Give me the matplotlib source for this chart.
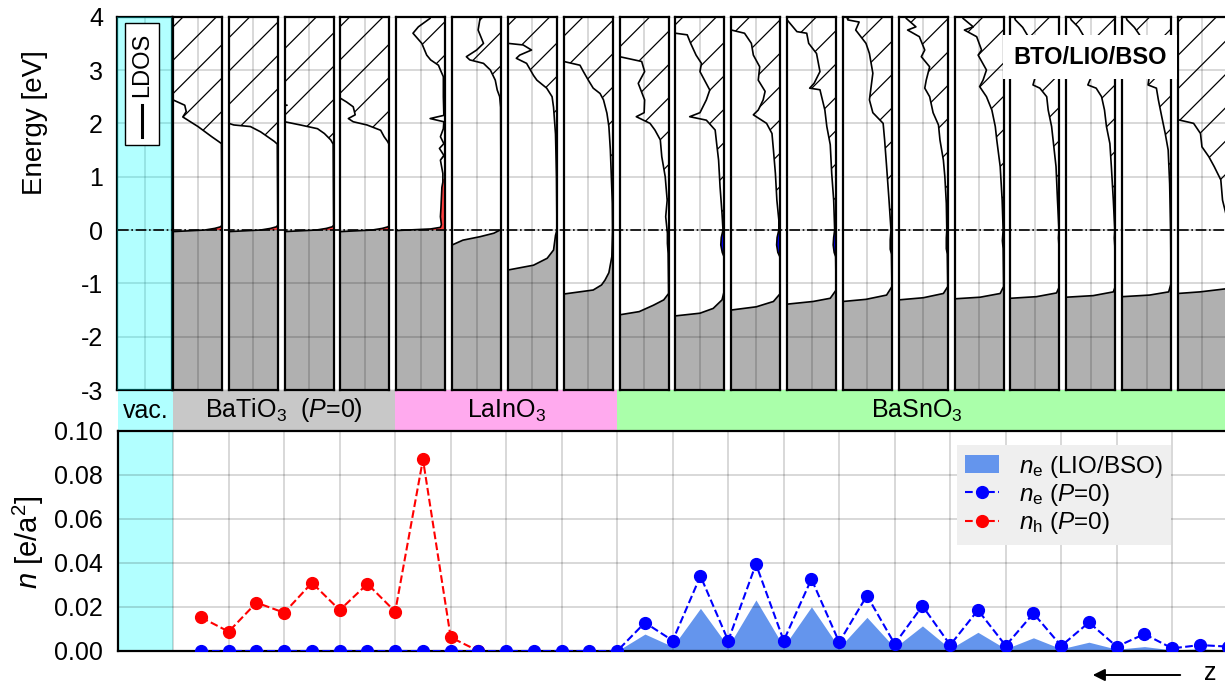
import matplotlib
matplotlib.use('Agg')

from matplotlib import rc
rc('font', family='Liberation Sans', size=18)
rc('mathtext', fontset='custom', rm='Liberation Sans', it='Liberation Sans:italic',
   bf='Liberation Sans:bold')
rc('axes', unicode_minus=False)
rc('hatch', linewidth=0.9)

from matplotlib import pyplot as plt
from matplotlib.patches import Rectangle, Patch, FancyArrowPatch
from matplotlib.lines import Line2D
from matplotlib.transforms import blended_transform_factory
import numpy as np

W, H = 1225, 683

###############################################################################
# Data: carrier densities per atomic layer (z in unit cells)
layer_z = np.arange(1.5, 20.01, 0.5)

n_h_p0 = [0.0153, 0.0088, 0.0220, 0.0174, 0.0310, 0.0186, 0.0305, 0.0179,
          0.0871, 0.0062, 0.0]

n_e_p0 = [0.0, 0.0, 0.0, 0.0, 0.0, 0.0, 0.0, 0.0,
          0.0, 0.0, 0.0, 0.0, 0.0, 0.0, 0.0, 0.0,
          0.0129, 0.0047, 0.0341, 0.0047, 0.0395, 0.0047, 0.0327, 0.0040,
          0.0252, 0.0032, 0.0205, 0.0027, 0.0186, 0.0024, 0.0171, 0.0023,
          0.0130, 0.0020, 0.0077, 0.0012, 0.0027, 0.0020]

n_e_lio_z = np.arange(9.0, 20.01, 0.5)
n_e_lio = [0.0, 0.0077, 0.0020, 0.0194, 0.0020, 0.0232, 0.0020, 0.0201,
           0.0015, 0.0153, 0.0015, 0.0114, 0.0010, 0.0085, 0.0010, 0.0060,
           0.0010, 0.0040, 0.0008, 0.0020, 0.0005, 0.0010, 0.0005]

# Material sections along z
materials = ['vac.', r'BaTiO$_3$  ($P$=0)', r'LaInO$_3$', r'BaSnO$_3$']
mat_start = [0, 1, 5, 9]
mat_end = [1, 5, 9, 20]
mat_color = ['#b0ffff', '#c8c8c8', '#ffaaee', '#aaffaa']

# LDOS per unit cell: (energy [eV], LDOS in panel widths)
bto_vb = [(-3.2, 1.3), (-0.05, 1.3), (-0.03, 1.0), (0.0, 0.35), (0.03, 0.15),
          (0.06, 0.03), (0.09, 0.0)]
ldos_bto1 = bto_vb + [(1.62, 0.01), (1.66, 0.07), (1.75, 0.21), (1.94, 0.49),
                      (2.12, 0.8), (2.22, 0.73), (2.34, 0.76), (2.44, 1.0),
                      (2.55, 1.3), (4.2, 1.3)]
ldos_bto2 = bto_vb + [(1.61, 0.01), (1.66, 0.07), (1.75, 0.21), (1.84, 0.35),
                      (1.94, 0.56), (1.97, 0.9), (2.0, 1.0), (2.05, 1.3),
                      (4.2, 1.3)]
ldos_bto3 = bto_vb + [(1.61, 0.01), (1.69, 0.06), (1.81, 0.19), (1.9, 0.33),
                      (1.97, 0.68), (2.03, 1.0), (2.1, 1.3), (2.3, 1.3),
                      (2.34, 0.95), (2.38, 1.3), (4.2, 1.3)]
ldos_bto4 = bto_vb + [(1.61, 0.01), (1.66, 0.04), (1.75, 0.11), (1.87, 0.18),
                      (1.97, 0.46), (2.03, 0.74), (2.09, 0.84), (2.16, 0.7),
                      (2.31, 0.74), (2.4, 0.875), (2.47, 1.0), (2.55, 1.3),
                      (4.2, 1.3)]
ldos_lio1 = [(-3.2, 1.3), (-0.03, 1.3), (-0.01, 1.0), (0.02, 0.3), (0.05, 0.1),
             (0.1, 0.08), (0.25, 0.1), (0.4, 0.09), (0.6, 0.08), (0.8, 0.07),
             (0.9, 0.05), (1.06, 0.05), (1.31, 0.1), (1.4, 0.03), (1.53, 0.12),
             (1.62, 0.03), (1.75, 0.1), (1.9, 0.04), (2.03, 0.03), (2.09, 0.31),
             (2.15, 0.03), (2.5, 0.04), (2.875, 0.04), (3.0, 0.1), (3.09, 0.14),
             (3.19, 0.3), (3.28, 0.38), (3.5, 0.48), (3.69, 0.66), (3.81, 0.55),
             (3.97, 0.31), (4.2, 0.2)]
ldos_lio2 = [(-3.2, 1.3), (-0.3, 1.3), (-0.28, 1.0), (-0.19, 0.78),
             (-0.125, 0.43), (-0.06, 0.15), (0.01, 0.0), (2.3, 0.01),
             (2.5, 0.03), (2.625, 0.08), (2.81, 0.12), (3.0, 0.22),
             (3.125, 0.36), (3.19, 0.64), (3.25, 0.71), (3.375, 0.5),
             (3.5, 0.36), (3.75, 0.47), (3.97, 0.43), (4.2, 0.4)]
ldos_lio3 = [(-3.2, 1.3), (-0.77, 1.3), (-0.75, 1.0), (-0.66, 0.48),
             (-0.53, 0.2), (-0.375, 0.07), (-0.1, 0.03), (0.0, 0.0),
             (1.0, 0.01), (1.8, 0.03), (2.3, 0.07), (2.5, 0.1), (2.66, 0.21),
             (2.81, 0.41), (2.9, 0.48), (3.125, 0.62), (3.22, 0.83),
             (3.28, 0.76), (3.375, 0.52), (3.47, 0.69), (3.5, 1.0),
             (3.55, 1.3), (4.2, 1.3)]
ldos_lio4 = [(-3.2, 1.3), (-1.22, 1.3), (-1.2, 1.0), (-1.125, 0.4),
             (-1.03, 0.23), (-0.94, 0.16), (-0.8, 0.08), (-0.5, 0.02),
             (0.0, 0.005), (0.5, 0.01), (1.5, 0.05), (1.94, 0.08),
             (2.19, 0.12), (2.44, 0.19), (2.56, 0.26), (2.66, 0.4),
             (2.81, 0.5), (2.97, 0.6), (3.09, 0.67), (3.16, 1.0), (3.2, 1.3),
             (4.2, 1.3)]
ldos_bso1 = [(-3.2, 1.3), (-1.62, 1.3), (-1.59, 1.0), (-1.53, 0.6),
             (-1.41, 0.31), (-1.31, 0.1), (-1.19, 0.0), (-0.44, 0.01),
             (-0.25, 0.025), (-0.06, 0.025), (0.25, 0.06), (0.56, 0.03),
             (1.0, 0.07), (1.375, 0.14), (1.69, 0.17), (1.875, 0.28),
             (2.0, 0.38), (2.125, 0.66), (2.2, 0.5), (2.44, 0.49),
             (2.75, 0.62), (2.97, 0.49), (3.16, 0.55), (3.25, 1.0),
             (3.3, 1.3), (4.2, 1.3)]
ldos_bso2 = [(-3.2, 1.3), (-1.63, 1.3), (-1.61, 1.0), (-1.56, 0.5),
             (-1.47, 0.23), (-1.31, 0.05), (-1.125, 0.0), (-0.5, 0.01),
             (-0.42, 0.045), (-0.28, 0.075), (-0.14, 0.065), (0.0, 0.03),
             (0.31, 0.05), (0.81, 0.09), (1.31, 0.12), (1.625, 0.16),
             (1.875, 0.19), (2.06, 0.37), (2.125, 0.71), (2.2, 0.5),
             (2.44, 0.37), (2.625, 0.3), (2.97, 0.5), (3.125, 0.47),
             (3.28, 0.58), (3.5, 0.69), (3.66, 0.76), (3.69, 1.0),
             (3.75, 1.3), (4.2, 1.3)]
ldos_bso3 = [(-3.2, 1.3), (-1.52, 1.3), (-1.5, 1.0), (-1.44, 0.49),
             (-1.34, 0.14), (-1.19, 0.0), (-0.5, 0.01), (-0.42, 0.05),
             (-0.28, 0.075), (-0.14, 0.065), (0.0, 0.03), (0.19, 0.03),
             (0.56, 0.07), (1.06, 0.1), (1.5, 0.14), (1.81, 0.17),
             (2.0, 0.28), (2.16, 0.55), (2.25, 0.45), (2.44, 0.35),
             (2.6, 0.31), (2.81, 0.45), (3.06, 0.42), (3.28, 0.55),
             (3.5, 0.59), (3.69, 0.73), (3.75, 1.0), (3.8, 1.3), (4.2, 1.3)]
ldos_bso4 = [(-3.2, 1.3), (-1.41, 1.3), (-1.39, 1.0), (-1.34, 0.47),
             (-1.28, 0.12), (-1.125, 0.0), (-0.5, 0.01), (-0.42, 0.04),
             (-0.28, 0.06), (-0.14, 0.05), (0.0, 0.03), (0.56, 0.05),
             (1.06, 0.09), (1.6, 0.12), (1.94, 0.19), (2.25, 0.23),
             (2.63, 0.33), (2.66, 0.54), (2.75, 0.45), (2.97, 0.33),
             (3.31, 0.4), (3.5, 0.56), (3.69, 0.6), (3.72, 0.8), (3.94, 1.0),
             (4.0, 1.3), (4.2, 1.3)]
ldos_bso5 = [(-3.2, 1.3), (-1.36, 1.3), (-1.34, 1.0), (-1.3, 0.53),
             (-1.22, 0.11), (-1.06, 0.0), (-0.45, 0.01), (-0.36, 0.035),
             (-0.18, 0.035), (0.0, 0.02), (0.56, 0.06), (1.2, 0.11),
             (1.69, 0.15), (2.0, 0.18), (2.2, 0.39), (2.44, 0.46),
             (2.94, 0.39), (3.31, 0.46), (3.5, 0.53), (3.75, 0.74),
             (3.9, 0.67), (3.94, 0.9), (4.2, 1.0)]
ldos_bso6 = [(-3.2, 1.3), (-1.33, 1.3), (-1.31, 1.0), (-1.27, 0.5),
             (-1.19, 0.09), (-1.06, 0.0), (-0.45, 0.01), (-0.35, 0.03),
             (-0.15, 0.03), (0.0, 0.02), (0.5, 0.03), (1.0, 0.06),
             (1.31, 0.09), (1.69, 0.16), (1.97, 0.19), (2.2, 0.3),
             (2.5, 0.37), (2.66, 0.47), (2.81, 0.44), (3.06, 0.37),
             (3.25, 0.54), (3.375, 0.47), (3.625, 0.58), (3.75, 0.82),
             (3.81, 0.65), (3.97, 0.85), (4.2, 0.9)]
ldos_bso7 = [(-3.2, 1.3), (-1.32, 1.3), (-1.29, 1.0), (-1.26, 0.48),
             (-1.19, 0.07), (-1.06, 0.0), (-0.35, 0.01), (-0.2, 0.025),
             (0.0, 0.01), (0.56, 0.03), (1.19, 0.07), (1.69, 0.14),
             (1.94, 0.17), (2.25, 0.24), (2.5, 0.35), (2.69, 0.49),
             (2.81, 0.42), (3.0, 0.35), (3.28, 0.52), (3.375, 0.45),
             (3.625, 0.55), (3.75, 0.8), (3.81, 0.62), (3.97, 0.83),
             (4.2, 0.9)]
ldos_bso8 = [(-3.2, 1.3), (-1.31, 1.3), (-1.28, 1.0), (-1.25, 0.47),
             (-1.18, 0.06), (-1.06, 0.0), (-0.3, 0.01), (-0.15, 0.02),
             (0.0, 0.01), (0.56, 0.04), (1.19, 0.07), (1.69, 0.13),
             (1.94, 0.16), (2.25, 0.23), (2.5, 0.26), (2.66, 0.4),
             (2.72, 0.54), (2.85, 0.5), (3.2, 0.55), (3.6, 0.62),
             (3.8, 0.75), (3.94, 0.9), (4.2, 1.0)]
ldos_bso9 = [(-3.2, 1.3), (-1.29, 1.3), (-1.26, 1.0), (-1.23, 0.45),
             (-1.16, 0.04), (-1.06, 0.0), (-0.3, 0.01), (-0.15, 0.02),
             (0.0, 0.01), (0.56, 0.04), (1.19, 0.08), (1.62, 0.11),
             (1.94, 0.18), (2.25, 0.22), (2.5, 0.28), (2.66, 0.39),
             (2.72, 0.56), (2.85, 0.5), (3.2, 0.55), (3.6, 0.62),
             (3.8, 0.75), (3.94, 0.9), (4.2, 1.0)]
ldos_bso10 = [(-3.2, 1.3), (-1.27, 1.3), (-1.25, 1.0), (-1.22, 0.44),
              (-1.16, 0.05), (-1.0, 0.0), (0.0, 0.01), (0.87, 0.03),
              (1.5, 0.06), (1.81, 0.12), (2.12, 0.19), (2.44, 0.26),
              (2.66, 0.3), (2.72, 0.47), (2.85, 0.45), (3.2, 0.5),
              (3.6, 0.6), (3.8, 0.75), (3.94, 0.9), (4.2, 1.0)]
ldos_bso11 = [(-3.2, 1.3), (-1.21, 1.3), (-1.19, 1.0), (-1.16, 0.55),
              (-1.1, 0.0), (0.3, 0.02), (0.56, 0.09), (0.94, 0.125),
              (1.19, 0.26), (1.375, 0.37), (1.56, 0.51), (1.81, 0.54),
              (2.0, 0.68), (2.06, 0.96), (2.1, 1.3), (4.2, 1.3)]

ldos_cells = [ldos_bto1, ldos_bto2, ldos_bto3, ldos_bto4,
              ldos_lio1, ldos_lio2, ldos_lio3, ldos_lio4,
              ldos_bso1, ldos_bso2, ldos_bso3, ldos_bso4, ldos_bso5,
              ldos_bso6, ldos_bso7, ldos_bso8, ldos_bso9, ldos_bso10,
              ldos_bso11]
# energy separating valence-band from conduction-band states
band_split = [1.0, 1.0, 1.0, 1.0, 0.95, 1.0, 0.5, 0.0,
              -0.8, -0.8, -0.8, -0.8, -0.8, -0.8, -0.8, -0.8, -0.8, -0.8, -0.8]

energy_ticks = [-3, -2, -1, 0, 1, 2, 3, 4]
density_ticks = [0.0, 0.02, 0.04, 0.06, 0.08, 0.10]


###############################################################################
def px_box(x0, y0, x1, y1):
    return [x0 / W, 1 - y1 / H, (x1 - x0) / W, (y1 - y0) / H]


X0, X1 = 117.7, 1227.7          # z = 0 ... 20
TOP0, TOP1 = 16.7, 390.0
BOT0, BOT1 = 431.0, 651.0
grid_kw = dict(color='black', alpha=0.18, linewidth=1.2)

fig = plt.figure(figsize=(W / 100, H / 100), dpi=100)

# background of the LDOS part
ax_bg = fig.add_axes(px_box(X0, TOP0, X1, TOP1), zorder=0)
ax_bg.set_ylim(-3, 4)
ax_bg.set_xlim(0, 1)
ax_bg.set_yticks(energy_ticks)
ax_bg.set_xticks([])
ax_bg.yaxis.grid(True, color='black', alpha=0.1, linewidth=1.2)
ax_bg.tick_params(axis='y', length=0, pad=10.5, labelsize=18)
for s in ax_bg.spines.values():
    s.set_visible(False)

# one panel per unit cell
panel_left = [117.0] + [173.0 + 55.83 * k for k in range(len(ldos_cells))]
panel_width = [55.0] + [49.0] * len(ldos_cells)

for i, (left, w) in enumerate(zip(panel_left, panel_width)):
    ax = fig.add_axes(px_box(left, TOP0, left + w, TOP1), zorder=2)
    ax.set_xlim(1.0, 0.0)
    ax.set_ylim(-3, 4)
    ax.set_xticks([0.5])
    ax.set_yticks(energy_ticks)
    ax.grid(True, **grid_kw)
    ax.set_axisbelow(False)
    ax.tick_params(length=0, labelleft=False, labelbottom=False)
    for s in ax.spines.values():
        s.set_linewidth(1.6)
    if i == 0:
        ax.add_patch(Rectangle((0, 0), 1, 1, transform=ax.transAxes,
                               facecolor='cyan', alpha=0.3, lw=0,
                               zorder=5, clip_on=False))
        continue
    pts = np.array(ldos_cells[i - 1])
    E, D = pts[:, 0], pts[:, 1]
    split = band_split[i - 1]
    regions = [(-3, min(0, split), dict(facecolor='#b0b0b0')),
               (max(0, split), 4, dict(facecolor='white', hatch='/',
                                       edgecolor='black'))]
    if split > 0:
        regions.append((0, split, dict(facecolor='#ff4040')))
    else:
        regions.append((split, 0, dict(facecolor='blue')))
    clip_tr = blended_transform_factory(ax.transAxes, ax.transData)
    for lo, hi, kw in regions:
        poly = ax.fill_betweenx(E, 0, D, linewidth=0, zorder=1, **kw)
        poly.set_clip_path(Rectangle((0, lo), 1, hi - lo, transform=clip_tr))
    ax.plot(D, E, color='black', linewidth=1.2, zorder=3)

# overlay: Fermi level, legend box and label
ax_ov = fig.add_axes(px_box(X0, TOP0, X1, TOP1), zorder=6)
ax_ov.set_xlim(0, 1)
ax_ov.set_ylim(-3, 4)
ax_ov.axis('off')
ax_ov.axhline(0, color='black', linestyle='-.', linewidth=1.2)


def fx(px):
    return (px - X0) / (X1 - X0)


def fy(py):
    return (TOP1 - py) / (TOP1 - TOP0)


ax_ov.add_patch(Rectangle((fx(125), fy(145)), fx(159) - fx(125), fy(23) - fy(145),
                          transform=ax_ov.transAxes, facecolor='white',
                          edgecolor='black', linewidth=1.0))
ax_ov.add_line(Line2D([fx(142), fx(142)], [fy(137), fy(105)],
                      transform=ax_ov.transAxes, color='black', linewidth=2.2))
ax_ov.text(fx(142), fy(65), 'LDOS', transform=ax_ov.transAxes, rotation=90,
           ha='center', va='center', fontsize=17)
ax_ov.text(fx(1090), fy(57), 'BTO/LIO/BSO', transform=ax_ov.transAxes,
           ha='center', va='center', fontsize=17, fontweight='bold',
           bbox=dict(boxstyle='square,pad=0.45', facecolor='white',
                     edgecolor='none'))

# material bar
ax_mat = fig.add_axes(px_box(X0, TOP1, X1, BOT0), zorder=1)
ax_mat.set_xlim(0, 20)
ax_mat.set_ylim(0, 1)
ax_mat.axis('off')
for name, a, b, c in zip(materials, mat_start, mat_end, mat_color):
    ax_mat.axvspan(a, b, color=c, lw=0)
    xc = 14.4 if b == 20 else 0.5 * (a + b)
    ax_mat.text(xc, 0.5, name, ha='center', va='center', fontsize=18)

# carrier densities
ax_n = fig.add_axes(px_box(X0, BOT0, X1, BOT1), zorder=1)
ax_n.set_xlim(0, 20)
ax_n.set_ylim(0, 0.1)
ax_n.axvspan(0, 1, color='cyan', alpha=0.3, lw=0, zorder=0)
ax_n.fill_between(n_e_lio_z, 0, n_e_lio, color='#6495ed', lw=0, zorder=1)
ax_n.plot(layer_z[:len(n_h_p0)], n_h_p0, '--o', color='red', lw=1.5,
          markersize=8.5, zorder=2)
ax_n.plot(layer_z, n_e_p0, '--o', color='blue', lw=1.5, markersize=8.5,
          zorder=3)
ax_n.set_xticks(range(0, 21))
ax_n.set_yticks(density_ticks)
ax_n.set_yticklabels(['%.2f' % v for v in density_ticks])
ax_n.grid(True, **grid_kw)
ax_n.tick_params(length=0, labelbottom=False, pad=10.5, labelsize=18)
for s in ax_n.spines.values():
    s.set_linewidth(1.6)

handles = [Patch(facecolor='#6495ed', edgecolor='none'),
           Line2D([], [], color='blue', ls='--', marker='o', lw=1.5, ms=8.5),
           Line2D([], [], color='red', ls='--', marker='o', lw=1.5, ms=8.5)]
labels = [r'$n_\mathrm{e}$ (LIO/BSO)', r'$n_\mathrm{e}$ ($P$=0)',
          r'$n_\mathrm{h}$ ($P$=0)']
leg = ax_n.legend(handles, labels, loc='upper right',
                  bbox_to_anchor=((1171 - X0) / (X1 - X0), (BOT1 - 445) / (BOT1 - BOT0)),
                  borderaxespad=0, fontsize=17.5, frameon=True, fancybox=False,
                  facecolor='#efefef', edgecolor='none', framealpha=1,
                  handlelength=1.4, handletextpad=0.8, labelspacing=0.1,
                  borderpad=0.35)

# axis labels and z arrow
fig.text(35 / W, 1 - 123 / H, 'Energy [eV]', rotation=90, ha='center',
         va='center', fontsize=20)
fig.text(28 / W, 1 - 542 / H, r'$n$ [e/a$^2$]', rotation=90, ha='center',
         va='center', fontsize=21)
fig.add_artist(FancyArrowPatch(
    (1183 / W, 1 - 675 / H), (1090 / W, 1 - 675 / H),
    transform=fig.transFigure, arrowstyle='-|>', mutation_scale=18,
    color='black', linewidth=1.4))
fig.text(1210 / W, 1 - 673 / H, 'z', ha='center', va='center', fontsize=18)

fig.savefig('out.png', dpi=100)
